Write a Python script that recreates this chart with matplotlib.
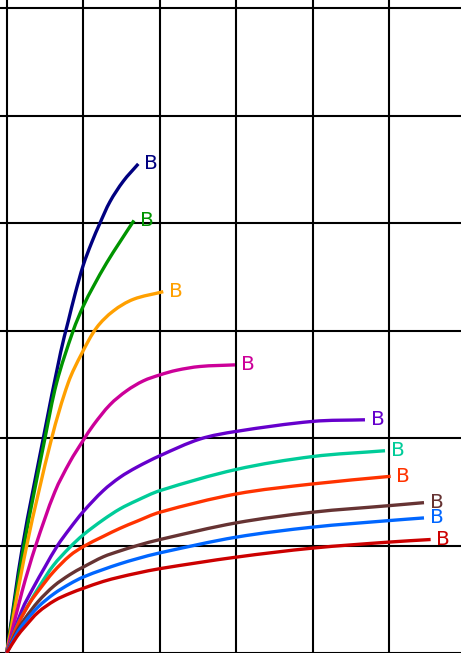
import numpy as np
import matplotlib
matplotlib.use("Agg")
import matplotlib.pyplot as plt
from matplotlib.path import Path
from matplotlib.patches import PathPatch

# curve points (grid units)
navy_x = [0, 0.209, 0.479, 0.706, 0.806, 0.893, 1.002, 1.112, 1.220, 1.351, 1.525, 1.721]
navy_y = [0, 1.000, 2.000, 2.800, 3.090, 3.337, 3.610, 3.820, 4.000, 4.200, 4.390, 4.551]

green_x = [0, 0.226, 0.501, 0.654, 0.870, 1.002, 1.133, 1.308, 1.482, 1.665]
green_y = [0, 1.000, 2.000, 2.517, 3.000, 3.228, 3.410, 3.631, 3.826, 4.025]

orange_x = [0, 0.262, 0.589, 0.806, 0.981, 1.177, 1.394, 1.656, 2.048]
orange_y = [0, 1.000, 2.000, 2.517, 2.786, 3.028, 3.182, 3.291, 3.362]

magenta_x = [0, 0.200, 0.380, 0.630, 0.828, 1.002, 1.133, 1.351, 1.569, 1.787, 2.005, 2.223, 2.528, 2.986]
magenta_y = [0, 0.570, 1.000, 1.500, 1.780, 1.980, 2.120, 2.310, 2.440, 2.532, 2.588, 2.631, 2.666, 2.681]

purple_x = [0, 0.200, 0.350, 0.500, 0.665, 0.828, 1.002, 1.263, 1.482, 1.700, 2.005, 2.528, 3.003, 4.002, 4.686]
purple_y = [0, 0.400, 0.610, 0.800, 1.000, 1.160, 1.316, 1.511, 1.635, 1.728, 1.836, 1.991, 2.062, 2.155, 2.170]

teal_x = [0, 0.140, 0.305, 0.436, 0.609, 0.828, 1.002, 1.263, 1.482, 1.700, 2.005, 3.003, 4.002, 4.948]
teal_y = [0, 0.260, 0.474, 0.629, 0.814, 0.985, 1.100, 1.240, 1.341, 1.418, 1.511, 1.708, 1.828, 1.882]

orangered_x = [0, 0.150, 0.305, 0.436, 0.609, 0.828, 1.002, 1.263, 1.482, 1.700, 2.005, 3.003, 4.002, 5.022]
orangered_y = [0, 0.270, 0.470, 0.598, 0.753, 0.907, 0.990, 1.085, 1.160, 1.225, 1.310, 1.480, 1.573, 1.644]

brown_x = [0, 0.131, 0.239, 0.413, 0.620, 0.828, 1.002, 1.263, 1.482, 1.700, 2.005, 3.003, 4.002, 5.000, 5.458]
brown_y = [0, 0.200, 0.320, 0.480, 0.625, 0.730, 0.800, 0.895, 0.950, 0.998, 1.056, 1.211, 1.310, 1.371, 1.399]

blue_x = [0, 0.131, 0.239, 0.413, 0.620, 0.828, 1.002, 1.263, 1.482, 1.700, 2.005, 3.003, 4.002, 5.000, 5.458]
blue_y = [0, 0.180, 0.289, 0.430, 0.552, 0.644, 0.707, 0.777, 0.830, 0.876, 0.932, 1.078, 1.171, 1.232, 1.257]

red_x = [0, 0.131, 0.239, 0.413, 0.632, 0.828, 1.002, 1.263, 1.482, 1.700, 2.005, 3.003, 4.002, 5.000, 5.545]
red_y = [0, 0.150, 0.245, 0.380, 0.490, 0.555, 0.602, 0.666, 0.707, 0.742, 0.785, 0.892, 0.976, 1.032, 1.056]

curves = [
    (navy_x, navy_y, "#000080"),
    (green_x, green_y, "#009400"),
    (orange_x, orange_y, "#ffa000"),
    (magenta_x, magenta_y, "#cc0099"),
    (purple_x, purple_y, "#6600cc"),
    (teal_x, teal_y, "#00cc99"),
    (orangered_x, orangered_y, "#ff3300"),
    (brown_x, brown_y, "#663333"),
    (blue_x, blue_y, "#0066ff"),
    (red_x, red_y, "#cc0000"),
]
label = "B"


def smooth_path(ax, xs, ys):
    # bezier through the read points; tangents worked out in pixel space
    pts = ax.transData.transform(np.column_stack([xs, ys]))
    n = len(pts)
    tans = []
    for i in range(n):
        d = pts[min(i + 1, n - 1)] - pts[max(i - 1, 0)]
        tans.append(d / np.hypot(*d))
    verts = [pts[0]]
    codes = [Path.MOVETO]
    for i in range(n - 1):
        seg = np.hypot(*(pts[i + 1] - pts[i])) / 3
        verts += [pts[i] + tans[i] * seg, pts[i + 1] - tans[i + 1] * seg, pts[i + 1]]
        codes += [Path.CURVE4] * 3
    verts = ax.transData.inverted().transform(np.array(verts))
    return Path(verts, codes)


fig = plt.figure(figsize=(4.61, 6.53), dpi=100)
ax = fig.add_axes([0, 0, 1, 1])
ax.set_xlim(-0.0876, 5.942)
ax.set_ylim(0.013, 6.076)

for xs, ys, col in curves:
    ax.add_patch(PathPatch(smooth_path(ax, xs, ys), fill=False, edgecolor=col,
                           lw=2.4, zorder=3))
    ax.annotate(label, (xs[-1], ys[-1]), xytext=(4, 0), textcoords="offset points",
                ha="left", va="center", color=col, fontsize=14.5)

ax.set_xticks(range(0, 6))
ax.set_yticks(range(0, 7))
ax.tick_params(length=0, labelbottom=False, labelleft=False)
ax.grid(True, color="black", lw=1.5)
for s in ax.spines.values():
    s.set_visible(False)

fig.savefig("out.png", dpi=100)
